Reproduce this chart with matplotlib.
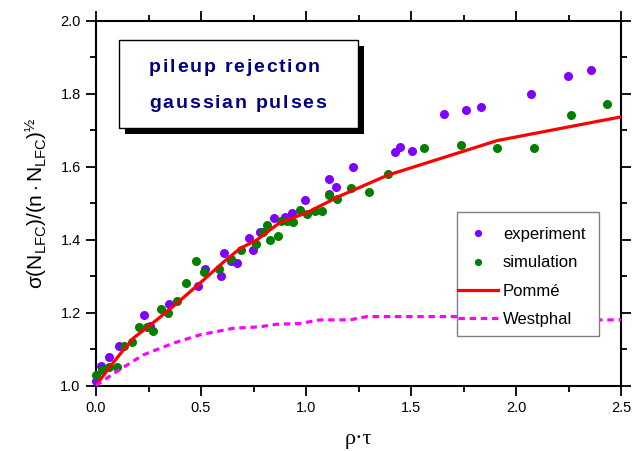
import numpy as np
import matplotlib
matplotlib.use('Agg')
import matplotlib.pyplot as plt
from matplotlib.ticker import MultipleLocator
from matplotlib.patches import Rectangle
from matplotlib.font_manager import FontProperties

plt.rcParams['font.family'] = ['Liberation Sans', 'DejaVu Sans']
plt.rcParams['mathtext.fontset'] = 'custom'
plt.rcParams['mathtext.rm'] = 'Liberation Sans'
plt.rcParams['mathtext.it'] = 'Liberation Sans'

# experiment points
exp_x = [0.0, 0.024, 0.062, 0.11, 0.229, 0.259, 0.346, 0.486, 0.519, 0.594, 0.608, 0.641, 0.671,
         0.73, 0.749, 0.78, 0.846, 0.898, 0.935, 0.995, 1.11, 1.111, 1.143, 1.225, 1.425, 1.446,
         1.505, 1.659, 1.762, 1.835, 2.07, 2.248, 2.359]
exp_y = [1.013, 1.054, 1.077, 1.107, 1.193, 1.163, 1.223, 1.273, 1.32, 1.301, 1.363, 1.342, 1.336,
         1.404, 1.373, 1.42, 1.46, 1.463, 1.474, 1.509, 1.566, 1.525, 1.544, 1.6, 1.64, 1.654,
         1.643, 1.744, 1.756, 1.764, 1.80, 1.849, 1.866]

# simulation points
sim_x = [0.0, 0.027, 0.063, 0.098, 0.135, 0.17, 0.203, 0.245, 0.273, 0.308, 0.344, 0.387, 0.43,
         0.476, 0.516, 0.587, 0.641, 0.692, 0.762, 0.794, 0.816, 0.83, 0.865, 0.883, 0.908, 0.938,
         0.971, 1.006, 1.043, 1.078, 1.111, 1.146, 1.214, 1.302, 1.389, 1.564, 1.738, 1.911, 2.086,
         2.26, 2.433]
sim_y = [1.03, 1.043, 1.052, 1.05, 1.109, 1.12, 1.161, 1.161, 1.15, 1.21, 1.2, 1.232, 1.28,
         1.341, 1.312, 1.32, 1.348, 1.371, 1.389, 1.42, 1.441, 1.40, 1.41, 1.452, 1.45, 1.449,
         1.481, 1.47, 1.48, 1.48, 1.522, 1.511, 1.541, 1.531, 1.581, 1.651, 1.661, 1.651, 1.651,
         1.741, 1.771]

# Pomme model curve
pom_x = [0, 0.067, 0.13, 0.178, 0.289, 0.384, 0.511, 0.606, 0.686, 0.765, 0.829, 0.876, 1.003,
         1.162, 1.389, 1.911, 2.5]
pom_y = [1.0, 1.052, 1.097, 1.13, 1.18, 1.225, 1.289, 1.338, 1.376, 1.399, 1.427, 1.447, 1.474,
         1.52, 1.577, 1.672, 1.737]

# Westphal model curve
wp_x = [0, 0.098, 0.225, 0.368, 0.495, 0.654, 0.78, 0.86, 0.971, 1.067, 1.21, 1.289, 1.908, 2.4, 2.5]
wp_y = [1.0, 1.038, 1.084, 1.116, 1.139, 1.157, 1.161, 1.168, 1.17, 1.18, 1.18, 1.189, 1.189, 1.18, 1.18]

box_lines = ['pileup rejection', 'gaussian pulses']

W, H = 633, 451
fig = plt.figure(figsize=(W / 100, H / 100), dpi=100)
ax = fig.add_axes([96 / W, 1 - 385.5 / H, (621 - 96) / W, (385.5 - 21) / H])

ax.plot(exp_x, exp_y, 'o', color='#8000ff', ms=6.5, mec='none', label='experiment', clip_on=False, zorder=3)
ax.plot(sim_x, sim_y, 'o', color='#008000', ms=6.5, mec='none', label='simulation', clip_on=False, zorder=4)
ax.plot(pom_x, pom_y, '-', color='#ff0000', lw=2.3, label='Pommé', zorder=5)
ax.plot(wp_x, wp_y, color='#ff00ff', lw=2.3, linestyle=(0, (2, 1.5)), label='Westphal', zorder=5)

ax.set_xlim(0, 2.5)
ax.set_ylim(1.0, 2.0)
ax.xaxis.set_major_locator(MultipleLocator(0.5))
ax.xaxis.set_minor_locator(MultipleLocator(0.25))
ax.yaxis.set_major_locator(MultipleLocator(0.2))
ax.yaxis.set_minor_locator(MultipleLocator(0.1))
ax.tick_params(which='both', direction='out', top=True, right=True, width=1.3, labelsize=10.5, pad=4)
ax.tick_params(which='major', length=7)
ax.tick_params(which='minor', length=4)
for s in ax.spines.values():
    s.set_linewidth(1.5)

ax.set_xlabel('ρ·τ', family=['Liberation Serif', 'DejaVu Serif'], fontsize=16, labelpad=11)
ax.set_ylabel(r'$\sigma(\mathrm{N_{LFC}})/(\mathrm{n\cdot N_{LFC}})^{½}$', fontsize=15, labelpad=8)

def fx(px):
    return px / W

def fy(py):
    return 1 - py / H

# legend: frame drawn by hand, entries by matplotlib
ax.add_patch(Rectangle((fx(457), fy(336)), fx(599) - fx(457), fy(212) - fy(336),
                       transform=fig.transFigure, facecolor='white', edgecolor='#808080',
                       lw=1.0, zorder=9, clip_on=False))
leg = ax.legend(loc='upper left', bbox_to_anchor=(fx(458), fy(227)), bbox_transform=fig.transFigure,
                fontsize=12, frameon=False, handlelength=2.4, handletextpad=0.3,
                labelspacing=0.8, borderpad=0, borderaxespad=0, markerscale=0.8)
leg.set_zorder(10)

# text box with shadow
fig.patches.append(Rectangle((fx(125), fy(134)), fx(364) - fx(125), fy(46) - fy(134),
                             transform=fig.transFigure, facecolor='black', edgecolor='none', zorder=20))
fig.patches.append(Rectangle((fx(119), fy(128)), fx(358) - fx(119), fy(40) - fy(128),
                             transform=fig.transFigure, facecolor='white', edgecolor='black', lw=1, zorder=21))

# letter-spaced bold text
renderer = fig.canvas.get_renderer()
prop = FontProperties(family='Liberation Sans', weight='bold', size=14)
spacing = 1.8  # extra pixels between letters

def ink_width(s):
    w, h, d = renderer.get_text_width_height_descent(s, prop, ismath=False)
    return w

for line, base in zip(box_lines, [72, 108]):
    for i, c in enumerate(line):
        if c == ' ':
            continue
        xpos = 149 + ink_width(line[:i + 1]) - ink_width(c) + i * spacing
        fig.text(fx(xpos), fy(base), c, color='#000080', fontproperties=prop,
                 va='baseline', ha='left', zorder=22)

fig.savefig('out.png', dpi=100)
